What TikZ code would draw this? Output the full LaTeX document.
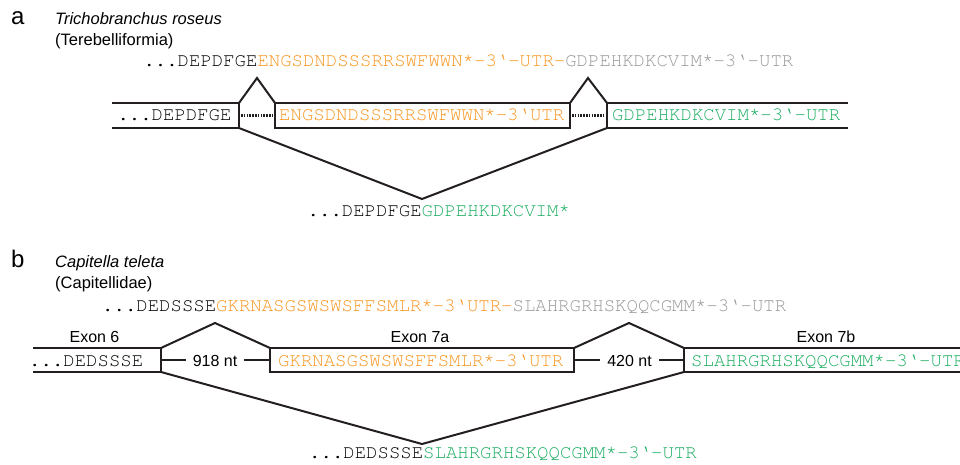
\documentclass[tikz,border=0pt]{standalone}
\usepackage{fontspec}
\setmainfont{Liberation Sans}
\newfontfamily\seqfont{TeX Gyre Cursor}
\definecolor{seqorange}{RGB}{247,148,30}
\definecolor{seqgray}{RGB}{150,150,150}
\definecolor{seqgreen}{RGB}{25,172,95}
\definecolor{linegray}{RGB}{35,31,32}
\tikzset{
  seq/.style={anchor=base west, inner sep=0pt, font=\seqfont\fontsize{19}{19}\selectfont, text=black},
  lbl/.style={anchor=base, inner sep=0pt, font=\fontsize{16}{16}\selectfont},
  ntlbl/.style={anchor=center, inner sep=0pt, font=\fontsize{16}{16}\selectfont},
  ttl/.style={anchor=base west, inner sep=0pt, font=\fontsize{16.5}{16.5}\selectfont},
  panel/.style={anchor=base west, inner sep=0pt, font=\fontsize{24}{24}\selectfont},
  exline/.style={draw=linegray, line width=2pt, line join=miter},
  dotline/.style={draw=linegray, line width=2.2pt, dash pattern=on 1.6pt off 1.2pt},
}
\newcommand{\og}[1]{\textcolor{seqorange}{#1}}
\newcommand{\gy}[1]{\textcolor{seqgray}{#1}}
\newcommand{\gn}[1]{\textcolor{seqgreen}{#1}}
\begin{document}
\begin{tikzpicture}[x=1pt,y=-1pt]
\useasboundingbox (0,0) rectangle (960,465);

% ---------- panel a ----------
\node[panel] (pa) at (11,25) {a};
\node[ttl] (ta) at (55,25) {\itshape Trichobranchus roseus};
\node[ttl] (sa) at (55,46) {(Terebelliformia)};
\node[seq] (topa) at (143.3,67) {...DEPDFGE\og{ENGSDNDSSSRRSWFWWN*-3‘-UTR-}\gy{GDPEHKDKCVIM*-3‘-UTR}};

% exon corners
\coordinate (a1tl) at (112,103); \coordinate (a1tr) at (239,103);
\coordinate (a1bl) at (112,128); \coordinate (a1br) at (239,128);
\coordinate (a2tl) at (275,103); \coordinate (a2tr) at (570,103);
\coordinate (a2bl) at (275,128); \coordinate (a2br) at (570,128);
\coordinate (a3tl) at (607,103); \coordinate (a3tr) at (848,103);
\coordinate (a3bl) at (607,128); \coordinate (a3br) at (848,128);
\coordinate (ap1) at (257,78); \coordinate (ap2) at (588,78);
\coordinate (apd) at (422,199);

\draw[exline] (a1tl) -- (a1tr) -- (a1br) -- (a1bl);
\draw[exline] (a2tl) rectangle (a2br);
\draw[exline] (a3tr) -- (a3tl) -- (a3bl) -- (a3br);
\draw[exline] (a1tr) -- (ap1) -- (a2tl);
\draw[exline] (a2tr) -- (ap2) -- (a3tl);
\draw[exline] (a1br) -- (apd) -- (a3bl);
\draw[dotline] (241,115.5) -- (274,115.5);
\draw[dotline] (572,115.5) -- (606,115.5);

\node[seq] (ea1) at (117.3,121) {...DEPDFGE};
\node[seq] (ea2) at (279,121) {\og{ENGSDNDSSSRRSWFWWN*-3‘UTR}};
\node[seq] (ea3) at (612,121) {\gn{GDPEHKDKCVIM*-3‘-UTR}};

\node[seq] (bota) at (307.5,216) {...DEPDFGE\gn{GDPEHKDKCVIM*}};

% ---------- panel b ----------
\node[panel] (pb) at (11,267) {b};
\node[ttl] (tb) at (55,267) {\itshape Capitella teleta};
\node[ttl] (sb) at (55,288) {(Capitellidae)};
\node[seq] (topb) at (102,311) {...DEDSSSE\og{GKRNASGSWSWSFFSMLR*-3‘UTR-}\gy{SLAHRGRHSKQQCGMM*-3‘-UTR}};

\node[lbl] (x6) at (94.5,342) {Exon 6};
\node[lbl] (x7a) at (420,342) {Exon 7a};
\node[lbl] (x7b) at (826,342) {Exon 7b};

\coordinate (b1tl) at (33,348); \coordinate (b1tr) at (161,348);
\coordinate (b1bl) at (33,372); \coordinate (b1br) at (161,372);
\coordinate (b2tl) at (270,348); \coordinate (b2br) at (574,372);
\coordinate (b2tr) at (574,348);
\coordinate (b3tl) at (684,348); \coordinate (b3tr) at (965,348);
\coordinate (b3bl) at (684,372); \coordinate (b3br) at (965,372);
\coordinate (bp1) at (215,323); \coordinate (bp2) at (629,323);
\coordinate (bpd) at (422,444);

\draw[exline] (b1tl) -- (b1tr) -- (b1br) -- (b1bl);
\draw[exline] (b2tl) rectangle (b2br);
\draw[exline] (b3tr) -- (b3tl) -- (b3bl) -- (b3br);
\draw[exline] (b1tr) -- (bp1) -- (b2tl);
\draw[exline] (b2tr) -- (bp2) -- (b3tl);
\draw[exline] (b1br) -- (bpd) -- (b3bl);

\node[ntlbl] (i1) at (215,360.5) {918 nt};
\node[ntlbl] (i2) at (629.5,360.5) {420 nt};
\draw[exline] (161,360) -- ([xshift=-7pt]i1.west |- 0,360);
\draw[exline] ([xshift=7pt]i1.east |- 0,360) -- (270,360);
\draw[exline] (574,360) -- ([xshift=-7pt]i2.west |- 0,360);
\draw[exline] ([xshift=7pt]i2.east |- 0,360) -- (684,360);

\node[seq] (eb1) at (29,366) {...DEDSSSE};
\node[seq] (eb2) at (278,366) {\og{GKRNASGSWSWSFFSMLR*-3‘UTR}};
\node[seq] (eb3) at (691,366) {\gn{SLAHRGRHSKQQCGMM*-3‘-UTR}};

\node[seq] (botb) at (309,458) {...DEDSSSE\gn{SLAHRGRHSKQQCGMM*-3‘-UTR}};
\end{tikzpicture}
\end{document}
